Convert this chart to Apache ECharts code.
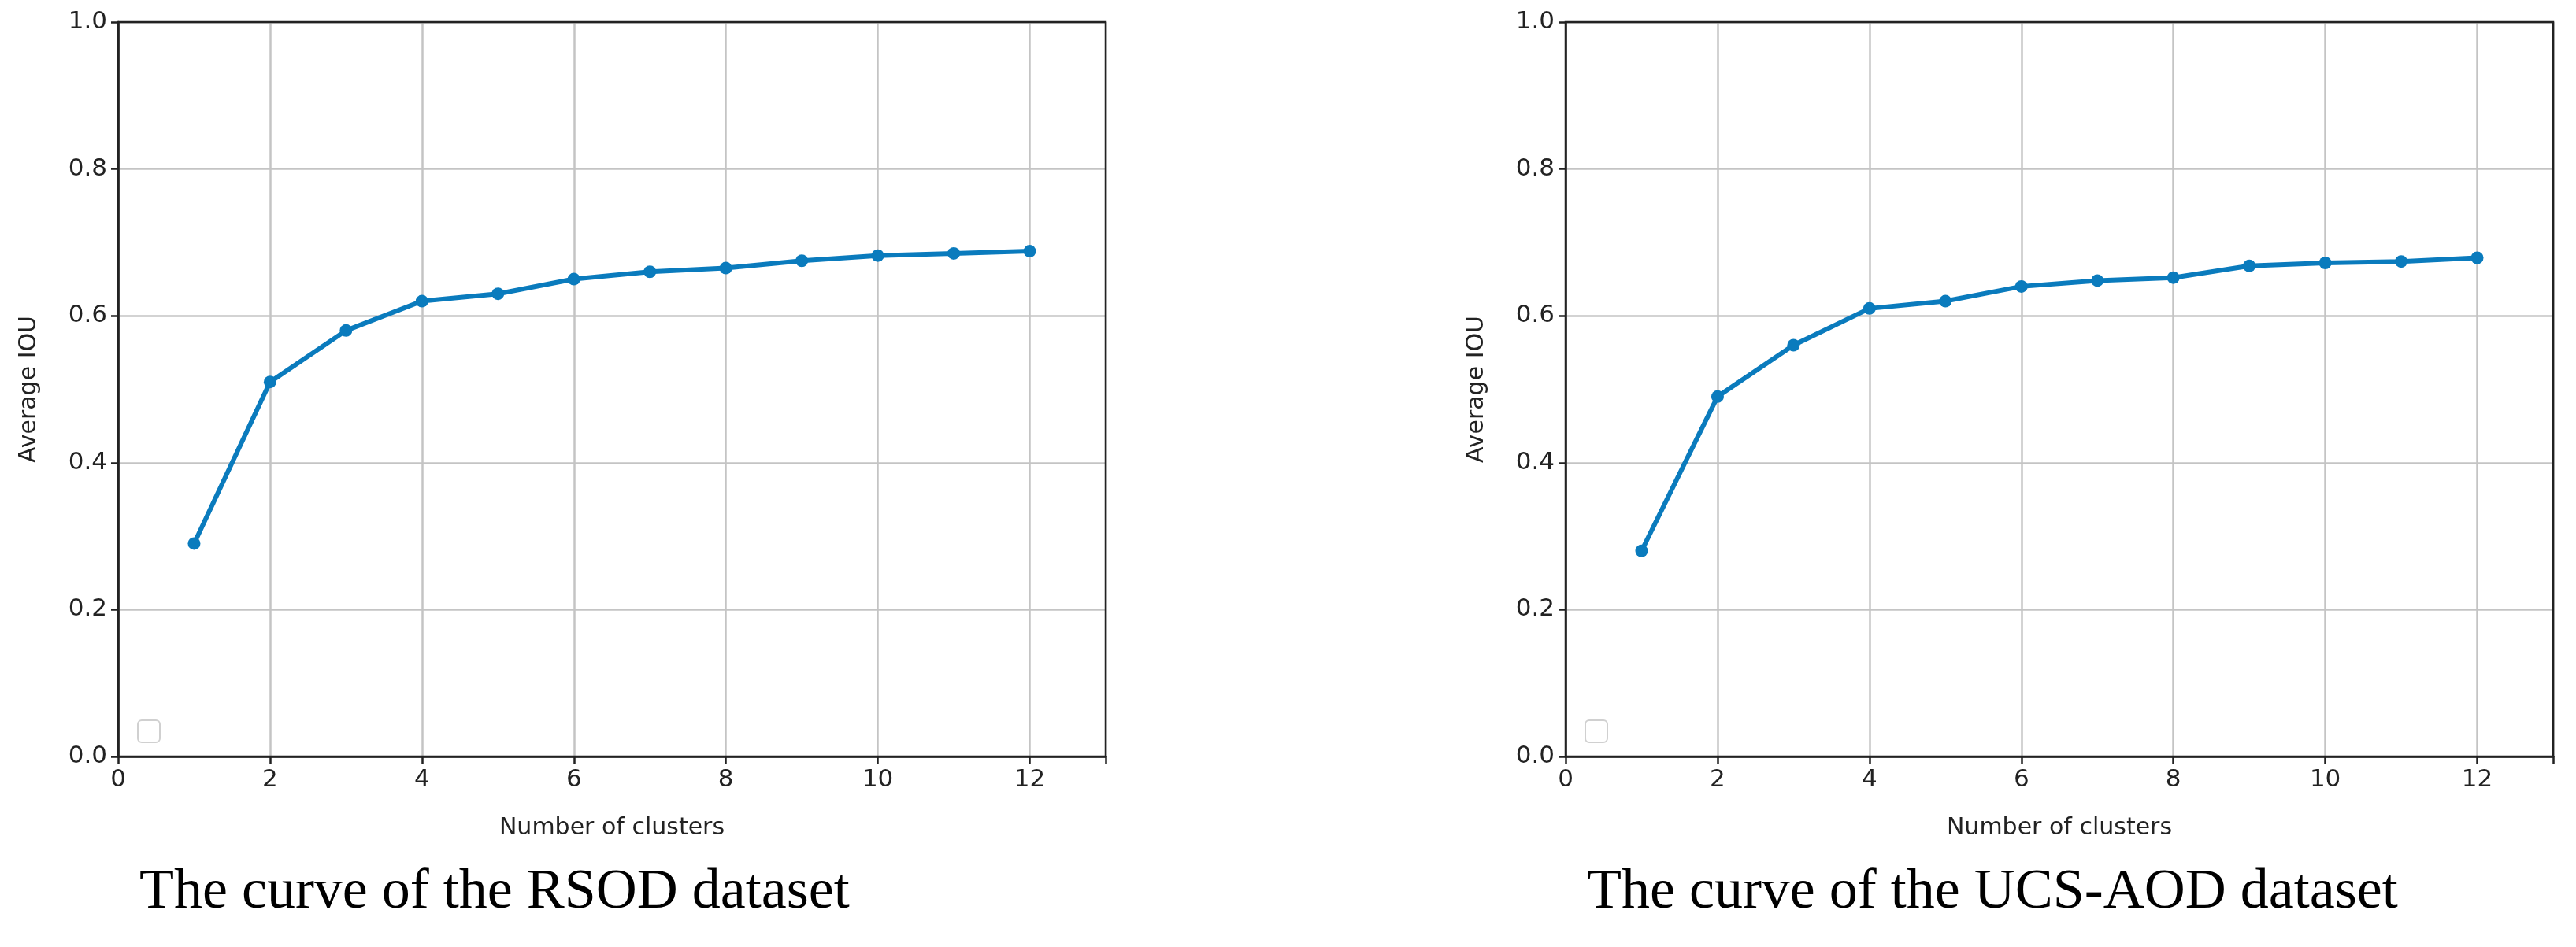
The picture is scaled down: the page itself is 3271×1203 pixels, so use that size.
<!DOCTYPE html>
<html><head><meta charset="utf-8">
<script src="https://cdn.jsdelivr.net/npm/echarts@6/dist/echarts.min.js"></script>
<style>html,body{margin:0;background:#fff}#c{width:3271px;height:1203px}</style>
</head><body><div id="c"></div>
<script>
const clusters = [1,2,3,4,5,6,7,8,9,10,11,12];
const rsod = [0.29,0.51,0.58,0.62,0.63,0.65,0.66,0.665,0.675,0.682,0.685,0.688];
const ucs = [0.28,0.49,0.56,0.61,0.62,0.64,0.648,0.652,0.668,0.672,0.674,0.679];
const captions = ['The curve of the RSOD dataset','The curve of the UCS-AOD dataset'];
const lefts = [150, 1988];
const W = 1254, TOP = 28, H = 933;
const chart = echarts.init(document.getElementById('c'));
const grids = [], xAxes = [], yAxes = [], series = [], graphics = [];
[rsod, ucs].forEach((d, i) => {
  grids.push({left: lefts[i], top: TOP, width: W, height: H});
  xAxes.push({type:'value', gridIndex:i, min:0, max:13, interval:2,
    name:'Number of clusters', nameLocation:'middle', nameGap:76,
    nameTextStyle:{fontFamily:'DejaVu Sans', fontSize:30, color:'#222'},
    axisLine:{show:true, lineStyle:{color:'#222', width:2.5}},
    axisTick:{show:true, length:9, lineStyle:{color:'#222', width:2.5}},
    axisLabel:{fontFamily:'DejaVu Sans', fontSize:31, color:'#222', margin:14,
      formatter: v => v > 12 ? '' : String(v)},
    splitLine:{show:true, lineStyle:{color:'#c4c4c4', width:2.5}}});
  yAxes.push({type:'value', gridIndex:i, min:0, max:1, interval:0.2,
    name:'Average IOU', nameLocation:'middle', nameGap:98,
    nameTextStyle:{fontFamily:'DejaVu Sans', fontSize:30, color:'#222'},
    axisLine:{show:true, lineStyle:{color:'#222', width:2.5}},
    axisTick:{show:true, length:9, lineStyle:{color:'#222', width:2.5}},
    axisLabel:{fontFamily:'DejaVu Sans', fontSize:31, color:'#222', margin:14,
      formatter: v => v.toFixed(1)},
    splitLine:{show:true, lineStyle:{color:'#c4c4c4', width:2.5}}});
  series.push({type:'line', xAxisIndex:i, yAxisIndex:i,
    data: clusters.map((c, j) => [c, d[j]]),
    symbol:'circle', symbolSize:16, showSymbol:true,
    lineStyle:{color:'#0a7bbd', width:6}, itemStyle:{color:'#0a7bbd'}});
  graphics.push({type:'rect', left: lefts[i] + 24, top: 914, shape:{width:28, height:28, r:5},
    style:{fill:'#fff', stroke:'#d0d0d0', lineWidth:2}});
  graphics.push({type:'text', left: lefts[i] + W/2 - 600, top: 1098,
    style:{text: captions[i], font:'72px "Liberation Serif"', fill:'#000', width:1200, align:'center'}});
});
[0,1].forEach(i => graphics.push({type:'rect', shape:{x:lefts[i], y:TOP, width:W, height:H},
  style:{fill:'none', stroke:'#222', lineWidth:2.5}, z:10}));
chart.setOption({animation:false, grid:grids, xAxis:xAxes, yAxis:yAxes, series:series, graphic:graphics});
</script></body></html>
